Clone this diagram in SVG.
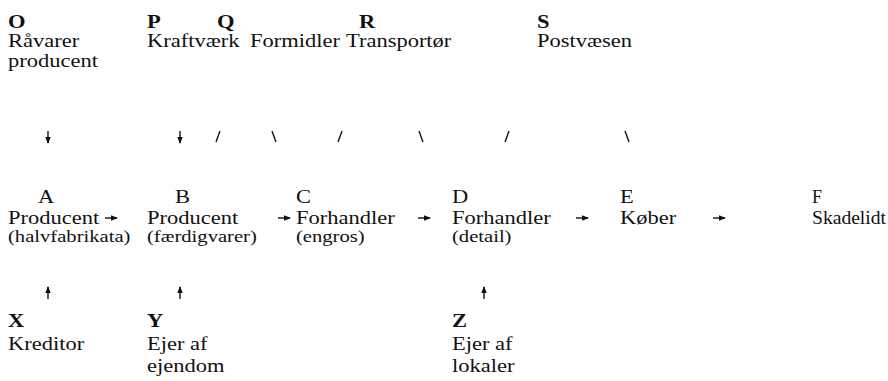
<svg xmlns="http://www.w3.org/2000/svg" width="888" height="381" viewBox="0 0 888 381">
<defs>
<style>
text{font-family:"Liberation Serif","Times New Roman",serif;font-size:18px;fill:#111}
.k{font-weight:bold}
.s{font-size:16.5px}
.c{stroke:#111;stroke-width:1.4;fill:none}
.h{fill:#111;stroke:none}
</style>
<marker id="ah" viewBox="0 0 7 6" refX="6" refY="3" markerWidth="7" markerHeight="6" markerUnits="userSpaceOnUse" orient="auto"><path d="M0,0.3 L7,3 L0,5.7 Z" class="h"/></marker>
</defs>
<rect width="888" height="381" fill="#fff"/>
<g id="O" transform="scale(1.25 1)"><text x="6.4" y="28" class="k">O</text><text x="6.4" y="47">Råvarer</text><text x="6.4" y="67">producent</text></g>
<g id="P" transform="scale(1.25 1)"><text x="117.6" y="28" class="k">P</text><text x="117.6" y="47">Kraftværk</text></g>
<g id="Q" transform="scale(1.25 1)"><text x="173.6" y="28" class="k">Q</text><text x="200" y="47">Formidler</text></g>
<g id="R" transform="scale(1.25 1)"><text x="287.2" y="28" class="k">R</text><text x="276.8" y="47">Transportør</text></g>
<g id="S" transform="scale(1.25 1)"><text x="429.6" y="28" class="k">S</text><text x="429.6" y="47">Postvæsen</text></g>
<g id="A" transform="scale(1.25 1)"><text x="30.4" y="203">A</text><text x="6.4" y="224">Producent</text><text x="6.4" y="242" class="s">(halvfabrikata)</text></g>
<g id="B" transform="scale(1.25 1)"><text x="140" y="203">B</text><text x="117.6" y="224">Producent</text><text x="117.6" y="242" class="s">(færdigvarer)</text></g>
<g id="C" transform="scale(1.25 1)"><text x="236.8" y="203">C</text><text x="236.8" y="224">Forhandler</text><text x="236.8" y="242" class="s">(engros)</text></g>
<g id="D" transform="scale(1.25 1)"><text x="361.6" y="203">D</text><text x="361.6" y="224">Forhandler</text><text x="361.6" y="242" class="s">(detail)</text></g>
<g id="E" transform="scale(1.25 1)"><text x="496" y="203">E</text><text x="496" y="224">Køber</text></g>
<g id="F"><text x="812" y="203">F</text><text x="812" y="224" textLength="74" lengthAdjust="spacingAndGlyphs">Skadelidt</text></g>
<g id="X" transform="scale(1.25 1)"><text x="6.4" y="327" class="k">X</text><text x="6.4" y="350">Kreditor</text></g>
<g id="Y" transform="scale(1.25 1)"><text x="117.6" y="327" class="k">Y</text><text x="117.6" y="350">Ejer af</text><text x="117.6" y="372">ejendom</text></g>
<g id="Z" transform="scale(1.25 1)"><text x="361.6" y="327" class="k">Z</text><text x="361.6" y="350">Ejer af</text><text x="361.6" y="372">lokaler</text></g>
<g id="connectors">
<line x1="48" y1="131" x2="48" y2="143" class="c" marker-end="url(#ah)"/>
<line x1="180" y1="131" x2="180" y2="143" class="c" marker-end="url(#ah)"/>
<line x1="220" y1="131" x2="216" y2="142" class="c"/>
<line x1="272" y1="131" x2="276" y2="142" class="c"/>
<line x1="342" y1="131" x2="338" y2="142" class="c"/>
<line x1="419" y1="131" x2="423" y2="142" class="c"/>
<line x1="509" y1="131" x2="505" y2="142" class="c"/>
<line x1="625" y1="131" x2="629" y2="142" class="c"/>
<line x1="105" y1="218" x2="117" y2="218" class="c" marker-end="url(#ah)"/>
<line x1="278" y1="218" x2="290" y2="218" class="c" marker-end="url(#ah)"/>
<line x1="418" y1="218" x2="430" y2="218" class="c" marker-end="url(#ah)"/>
<line x1="576" y1="218" x2="588" y2="218" class="c" marker-end="url(#ah)"/>
<line x1="713" y1="218" x2="725" y2="218" class="c" marker-end="url(#ah)"/>
<line x1="48" y1="299" x2="48" y2="287" class="c" marker-end="url(#ah)"/>
<line x1="180" y1="299" x2="180" y2="287" class="c" marker-end="url(#ah)"/>
<line x1="484" y1="299" x2="484" y2="287" class="c" marker-end="url(#ah)"/>
</g>
</svg>
